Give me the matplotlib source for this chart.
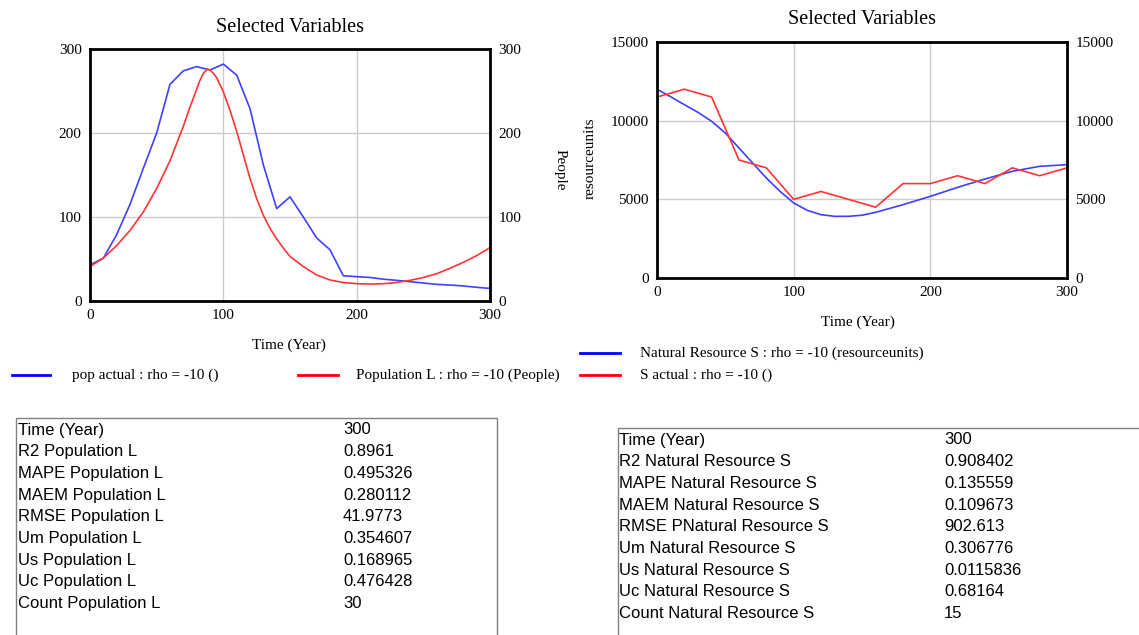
import numpy as np
import matplotlib
matplotlib.use('Agg')
import matplotlib.pyplot as plt
from matplotlib.lines import Line2D
from matplotlib.patches import Rectangle

# ---- data ----
pop_t = list(range(0, 301, 10))
pop_actual = [43, 51, 79, 115, 158, 200, 258, 274, 279, 275, 282, 269, 229, 162, 110, 124,
              100, 75, 61, 30, 29, 28, 26, 24.6, 23, 21.4, 19.8, 19, 17.9, 16.3, 15]

popL_t = [0, 10, 20, 30, 40, 50, 60, 70, 75, 80, 82, 85, 88, 90, 92, 95, 100, 105, 110, 115,
          120, 125, 130, 135, 140, 145, 150, 160, 170, 180, 190, 200, 210, 220, 230, 240, 250,
          260, 270, 280, 290, 300]
popL = [41, 51, 66, 84, 106, 134, 167, 208, 231, 252, 261, 271, 276, 275, 272, 266, 249, 227,
        202, 174, 146, 122, 102, 86.5, 74, 63, 53, 41, 31, 25, 22, 20.6, 20.2, 20.6, 22, 24.6,
        28, 32.5, 39, 46, 54, 63.5]

res_t = [0, 10, 20, 30, 40, 50, 60, 70, 80, 90, 100, 110, 120, 130, 140, 150, 160, 180, 200,
         220, 240, 260, 280, 300]
res_S = [12000, 11520, 11017, 10530, 9958, 9216, 8263, 7309, 6356, 5508, 4767, 4300, 4025,
         3919, 3919, 3990, 4174, 4661, 5190, 5763, 6292, 6780, 7097, 7203]

s_t = list(range(0, 301, 20))
s_actual = [11500, 12000, 11500, 7500, 7000, 5000, 5500, 5000, 4500, 6000, 6000, 6500, 6000,
            7000, 6500, 7000]

left_rows = ["Time (Year)", "R2 Population L", "MAPE Population L", "MAEM Population L",
             "RMSE Population L", "Um Population L", "Us Population L", "Uc Population L",
             "Count Population L"]
left_vals = ["300", "0.8961", "0.495326", "0.280112", "41.9773", "0.354607", "0.168965",
             "0.476428", "30"]
right_rows = ["Time (Year)", "R2 Natural Resource S", "MAPE Natural Resource S",
              "MAEM Natural Resource S", "RMSE PNatural Resource S", "Um Natural Resource S",
              "Us Natural Resource S", "Uc Natural Resource S", "Count Natural Resource S"]
right_vals = ["300", "0.908402", "0.135559", "0.109673", "902.613", "0.306776", "0.0115836",
              "0.68164", "15"]

W, H = 1139, 635
SERIF = 'Liberation Serif'
SANS = 'Liberation Sans'
BLUE = '#4040ff'
RED = '#ff3535'

fig = plt.figure(figsize=(W / 100, H / 100), dpi=100)
fig.patch.set_facecolor('white')


def fx(x):
    return x / W


def fy(y):
    return 1 - y / H


def px_axes(x0, y0, x1, y1):
    return fig.add_axes([fx(x0), fy(y1), fx(x1 - x0), (y1 - y0) / H])


def style_axes(ax, yticks):
    ax.set_xlim(0, 300)
    ax.set_ylim(yticks[0], yticks[-1])
    ax.set_xticks([0, 100, 200, 300])
    ax.set_yticks(yticks)
    ax.grid(True, color='#cccccc', lw=1)
    ax.set_axisbelow(True)
    for s in ax.spines.values():
        s.set_linewidth(2)
        s.set_color('black')
    ax.tick_params(length=0, pad=6, labelsize=11, labelleft=True, labelright=True)
    for lab in ax.get_xticklabels() + ax.get_yticklabels():
        lab.set_fontfamily(SERIF)


# ---- left chart ----
ax1 = px_axes(90, 49, 490, 301)
ax1.plot(pop_t, pop_actual, color=BLUE, lw=1.2)
ax1.plot(popL_t, popL, color=RED, lw=1.2)
style_axes(ax1, [0, 100, 200, 300])
fig.text(fx(290), fy(28), "Selected Variables", family=SERIF, fontsize=14.5, ha='center', va='center')
fig.text(fx(289), fy(345), "Time (Year)", family=SERIF, fontsize=11, ha='center', va='center')
fig.text(fx(560), fy(170), "People", family=SERIF, fontsize=11, ha='center', va='center', rotation=270)

# ---- right chart ----
ax2 = px_axes(657, 42, 1067, 278)
ax2.plot(res_t, res_S, color=BLUE, lw=1.2)
ax2.plot(s_t, s_actual, color=RED, lw=1.2)
style_axes(ax2, [0, 5000, 10000, 15000])
fig.text(fx(862), fy(20), "Selected Variables", family=SERIF, fontsize=14.5, ha='center', va='center')
fig.text(fx(858), fy(322), "Time (Year)", family=SERIF, fontsize=11, ha='center', va='center')
fig.text(fx(590), fy(158), "resourceunits", family=SERIF, fontsize=11, ha='center', va='center', rotation=90)

# ---- legends ----
legend_items = [
    (12, 50, 375, 'blue', "pop actual : rho = -10 ()", 72),
    (298, 338, 375, 'red', "Population L : rho = -10 (People)", 356),
    (580, 620, 353, 'blue', "Natural Resource S : rho = -10 (resourceunits)", 640),
    (580, 620, 375, 'red', "S actual : rho = -10 ()", 640),
]
for x0, x1, y, c, label, tx in legend_items:
    fig.add_artist(Line2D([fx(x0), fx(x1)], [fy(y), fy(y)], color=c, lw=2, transform=fig.transFigure))
    fig.text(fx(tx), fy(y), label, family=SERIF, fontsize=11, ha='left', va='center')

# ---- statistics tables ----
def draw_table(x0, x1, ytop, rows, vals, tx, vx, y_first):
    fig.add_artist(Rectangle((fx(x0), fy(H + 10)), fx(x1 - x0), (H + 10 - ytop) / H,
                             transform=fig.transFigure, fill=False, edgecolor='#808080', lw=1))
    for i, (r, v) in enumerate(zip(rows, vals)):
        y = y_first + i * 21.7
        fig.text(fx(tx), fy(y), r, family=SANS, fontsize=12, ha='left', va='center')
        fig.text(fx(vx), fy(y), v, family=SANS, fontsize=12, ha='left', va='center')


draw_table(16, 497, 418, left_rows, left_vals, 18, 343, 430)
draw_table(618, 1150, 428, right_rows, right_vals, 619, 944, 440)

fig.savefig('out.png', dpi=100)
